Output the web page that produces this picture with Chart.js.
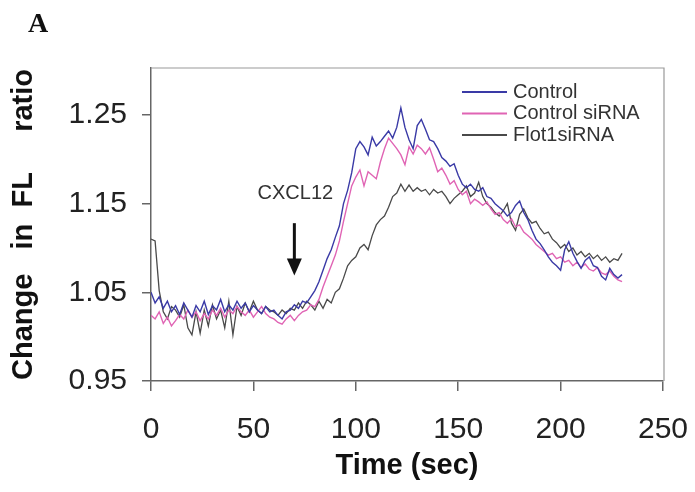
<!DOCTYPE html>
<html>
<head>
<meta charset="utf-8">
<title>Change in FL ratio</title>
<script src="https://cdn.jsdelivr.net/npm/chart.js@4.4.1/dist/chart.umd.min.js"></script>
<style>
    body { margin: 0; background: #fff; }
    #chart { display: block; }
</style>
</head>
<body>
<canvas id="chart" width="695" height="492"></canvas>
<script>
// Time points (sec)
const timeSec = [
    0, 2, 4, 6, 8, 10, 12, 14, 16, 18,
    20, 22, 24, 26, 28, 30, 32, 34, 36, 38,
    40, 42, 44, 46, 48, 50, 52, 54, 56, 58,
    60, 62, 64, 66, 68, 70, 72, 74, 76, 78,
    80, 82, 84, 86, 88, 90, 92, 94, 96, 98,
    100, 102, 104, 106, 108, 110, 112, 114, 116, 118,
    120, 122, 124, 126, 128, 130, 132, 134, 136, 138,
    140, 142, 144, 146, 148, 150, 152, 154, 156, 158,
    160, 162, 164, 166, 168, 170, 172, 174, 176, 178,
    180, 182, 184, 186, 188, 190, 192, 194, 196, 198,
    200, 202, 204, 206, 208, 210, 212, 214, 216, 218,
    220, 222, 224, 226, 228, 230
];

const controlValues = [
    1.050, 1.038, 1.045, 1.032, 1.040, 1.028, 1.035, 1.025, 1.038, 1.030,
    1.022, 1.035, 1.028, 1.040, 1.025, 1.035, 1.030, 1.042, 1.028, 1.036,
    1.030, 1.040, 1.032, 1.038, 1.028, 1.035, 1.030, 1.026, 1.034, 1.028,
    1.030, 1.024, 1.020, 1.028, 1.030, 1.036, 1.032, 1.040, 1.038, 1.045,
    1.052, 1.062, 1.075, 1.088, 1.098, 1.112, 1.125, 1.150, 1.165, 1.185,
    1.212, 1.220, 1.214, 1.205, 1.225, 1.215, 1.220, 1.226, 1.232, 1.224,
    1.236, 1.258, 1.236, 1.222, 1.212, 1.238, 1.245, 1.234, 1.222, 1.220,
    1.212, 1.202, 1.198, 1.192, 1.195, 1.182, 1.172, 1.168, 1.172, 1.166,
    1.164, 1.168, 1.158, 1.156, 1.150, 1.146, 1.142, 1.136, 1.140, 1.148,
    1.153, 1.140, 1.132, 1.120, 1.110, 1.105, 1.098, 1.090, 1.084, 1.080,
    1.075, 1.098, 1.107, 1.094, 1.085, 1.077, 1.086, 1.090, 1.080, 1.078,
    1.068, 1.064, 1.077, 1.070, 1.066, 1.070
];

const controlSirnaValues = [
    1.024, 1.020, 1.028, 1.015, 1.022, 1.012, 1.018, 1.025, 1.020, 1.030,
    1.022, 1.028, 1.018, 1.026, 1.020, 1.030, 1.024, 1.032, 1.022, 1.030,
    1.026, 1.034, 1.028, 1.024, 1.030, 1.022, 1.028, 1.034, 1.026, 1.022,
    1.020, 1.016, 1.014, 1.020, 1.024, 1.018, 1.024, 1.028, 1.030, 1.036,
    1.034, 1.042, 1.056, 1.068, 1.080, 1.092, 1.108, 1.130, 1.150, 1.170,
    1.180, 1.188, 1.170, 1.186, 1.182, 1.178, 1.197, 1.212, 1.224, 1.218,
    1.212, 1.205, 1.194, 1.214, 1.206, 1.216, 1.212, 1.206, 1.213, 1.200,
    1.186, 1.190, 1.182, 1.172, 1.176, 1.166, 1.160, 1.164, 1.150, 1.155,
    1.152, 1.148, 1.152, 1.144, 1.138, 1.140, 1.132, 1.128, 1.133, 1.124,
    1.126, 1.118, 1.114, 1.110, 1.104, 1.100, 1.096, 1.092, 1.094, 1.088,
    1.090, 1.084, 1.086, 1.080, 1.084, 1.078, 1.082, 1.076, 1.074, 1.078,
    1.072, 1.070, 1.074, 1.068, 1.064, 1.062
];

const flot1SirnaValues = [
    1.110, 1.108, 1.052, 1.028, 1.020, 1.034, 1.030, 1.022, 1.036, 1.010,
    1.002, 1.028, 1.004, 1.030, 1.012, 1.036, 1.020, 1.030, 1.010, 1.040,
    1.002, 1.034, 1.024, 1.038, 1.028, 1.040, 1.030, 1.026, 1.034, 1.030,
    1.028, 1.024, 1.030, 1.026, 1.032, 1.030, 1.038, 1.032, 1.040, 1.036,
    1.030, 1.040, 1.032, 1.042, 1.038, 1.050, 1.054, 1.066, 1.080, 1.086,
    1.090, 1.100, 1.104, 1.098, 1.114, 1.126, 1.132, 1.136, 1.146, 1.158,
    1.162, 1.172, 1.164, 1.171, 1.164, 1.168, 1.164, 1.166, 1.160, 1.166,
    1.162, 1.164, 1.158, 1.150, 1.156, 1.160, 1.164, 1.170, 1.158, 1.162,
    1.174, 1.158, 1.150, 1.146, 1.140, 1.136, 1.142, 1.150, 1.128, 1.120,
    1.138, 1.144, 1.134, 1.128, 1.130, 1.122, 1.116, 1.118, 1.110, 1.106,
    1.100, 1.104, 1.096, 1.100, 1.092, 1.096, 1.090, 1.094, 1.088, 1.092,
    1.086, 1.090, 1.084, 1.088, 1.086, 1.094
];

const seriesLabels = ['Control', 'Control siRNA', 'Flot1siRNA'];
const xTicks = [0, 50, 100, 150, 200, 250];
const yTicks = [0.95, 1.05, 1.15, 1.25];

// CXCL12 arrow (time, values)
const arrowTime = 70;
const arrowTop = 1.128;
const arrowTip = 1.069;
const arrowLabelValue = 1.161;

const axisColor = '#666';
const fontFamily = '"Liberation Sans", Arial, sans-serif';

function toPoints(values) {
    return values.map((v, i) => ({ x: timeSec[i], y: v }));
}

// Grey frame on top / right of the plot
const plotFrame = {
    id: 'plotFrame',
    beforeDatasetsDraw(chart) {
        const { ctx, chartArea } = chart;
        ctx.save();
        ctx.strokeStyle = '#999';
        ctx.lineWidth = 1.2;
        ctx.beginPath();
        ctx.moveTo(chartArea.left, chartArea.top);
        ctx.lineTo(chartArea.right + 1, chartArea.top);
        ctx.lineTo(chartArea.right + 1, chartArea.bottom);
        ctx.stroke();
        ctx.restore();
    }
};

// Legend inside the plot, upper right
const insideLegend = {
    id: 'insideLegend',
    afterDatasetsDraw(chart) {
        const ctx = chart.ctx;
        ctx.save();
        ctx.font = '20px ' + fontFamily;
        ctx.textBaseline = 'middle';
        ctx.textAlign = 'left';
        chart.data.datasets.forEach((ds, i) => {
            const y = 92 + i * 21.5;
            ctx.strokeStyle = ds.borderColor;
            ctx.lineWidth = 2;
            ctx.beginPath();
            ctx.moveTo(462, y);
            ctx.lineTo(507, y);
            ctx.stroke();
            ctx.fillStyle = '#333';
            ctx.fillText(ds.label, 513, y);
        });
        ctx.restore();
    }
};

// CXCL12 arrow and panel letter
const annotations = {
    id: 'annotations',
    afterDraw(chart) {
        const ctx = chart.ctx;
        const x = chart.scales.x.getPixelForValue(arrowTime);
        const yTop = chart.scales.y.getPixelForValue(arrowTop);
        const yTip = chart.scales.y.getPixelForValue(arrowTip);
        const yLabel = chart.scales.y.getPixelForValue(arrowLabelValue);
        ctx.save();
        ctx.fillStyle = '#111';
        ctx.strokeStyle = '#111';
        ctx.lineWidth = 3;
        ctx.beginPath();
        ctx.moveTo(x, yTop);
        ctx.lineTo(x, yTip - 14);
        ctx.stroke();
        ctx.beginPath();
        ctx.moveTo(x - 7.5, yTip - 17);
        ctx.lineTo(x + 7.5, yTip - 17);
        ctx.lineTo(x, yTip);
        ctx.closePath();
        ctx.fill();

        ctx.fillStyle = '#333';
        ctx.font = '20px ' + fontFamily;
        ctx.textAlign = 'center';
        ctx.textBaseline = 'middle';
        ctx.fillText('CXCL12', x + 1, yLabel);

        ctx.fillStyle = '#111';
        ctx.font = 'bold 28px "Liberation Serif", "Times New Roman", serif';
        ctx.textBaseline = 'alphabetic';
        ctx.fillText('A', 38, 32);
        ctx.restore();
    }
};

const ctx = document.getElementById('chart').getContext('2d');
const chart = new Chart(ctx, {
    type: 'line',
    data: {
        datasets: [
            {
                label: seriesLabels[0],
                data: toPoints(controlValues),
                borderColor: '#3a3aa6',
                borderWidth: 1.4
            },
            {
                label: seriesLabels[1],
                data: toPoints(controlSirnaValues),
                borderColor: '#e064b4',
                borderWidth: 1.4
            },
            {
                label: seriesLabels[2],
                data: toPoints(flot1SirnaValues),
                borderColor: '#4a4a4a',
                borderWidth: 1.3
            }
        ]
    },
    options: {
        responsive: false,
        animation: false,
        events: [],
        layout: {
            padding: { top: 68, right: 32, bottom: 0, left: 0 }
        },
        elements: {
            point: { radius: 0 },
            line: { tension: 0 }
        },
        plugins: {
            legend: { display: false },
            tooltip: { enabled: false }
        },
        scales: {
            x: {
                type: 'linear',
                min: 0,
                max: 250,
                afterBuildTicks: scale => {
                    scale.ticks = xTicks.map(v => ({ value: v }));
                },
                afterFit: scale => {
                    scale.height = 111;
                    scale.paddingLeft = 0;
                    scale.paddingRight = 0;
                },
                grid: {
                    drawOnChartArea: false,
                    color: axisColor,
                    tickLength: 10,
                    lineWidth: 1.5
                },
                border: { color: axisColor, width: 1.5 },
                ticks: {
                    color: '#222',
                    padding: 21,
                    maxRotation: 0,
                    font: { family: fontFamily, size: 30 }
                },
                title: {
                    display: true,
                    text: 'Time (sec)',
                    color: '#111',
                    padding: { top: 0, bottom: 9 },
                    font: { family: fontFamily, size: 29, weight: 'bold' }
                }
            },
            y: {
                min: 0.95,
                max: 1.303,
                afterBuildTicks: scale => {
                    scale.ticks = yTicks.map(v => ({ value: v }));
                },
                afterFit: scale => {
                    scale.width = 151;
                    scale.paddingTop = 0;
                    scale.paddingBottom = 0;
                },
                grid: {
                    drawOnChartArea: false,
                    color: axisColor,
                    tickLength: 9,
                    lineWidth: 1.5
                },
                border: { color: axisColor, width: 1.5 },
                ticks: {
                    color: '#222',
                    padding: 15,
                    font: { family: fontFamily, size: 30 },
                    callback: v => v.toFixed(2)
                },
                title: {
                    display: true,
                    text: 'Change   in  FL     ratio',
                    color: '#111',
                    padding: { top: 7, bottom: 0 },
                    font: { family: fontFamily, size: 29, weight: 'bold' }
                }
            }
        }
    },
    plugins: [plotFrame, insideLegend, annotations]
});
</script>
</body>
</html>
